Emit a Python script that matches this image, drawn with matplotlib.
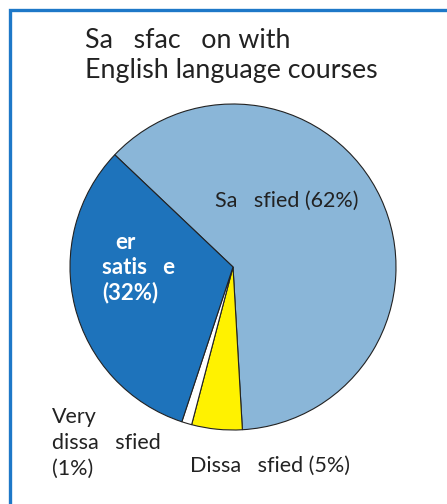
import matplotlib
matplotlib.use("Agg")
import matplotlib.pyplot as plt
from matplotlib.patches import Rectangle

# slice data, clockwise from the upper-left edge
labels = ["Satisfied", "Dissatisfied", "Very dissatisfied", "Rather satisfied"]
shares = [62, 5, 1, 32]
colors = ["#8ab6d8", "#fff200", "#ffffff", "#1e73bb"]

title_lines = ["Sa   sfac   on with", "English language courses"]
label_sat = "Sa   sfied (62%)"
label_dis = "Dissa   sfied (5%)"
label_very = ["Very", "dissa   sfied", "(1%)"]
label_rather = ["er", "satis   e", "(32%)"]

W, H = 447, 504
fig = plt.figure(figsize=(W / 100, H / 100), dpi=100)
ax = fig.add_axes([0, 0, 1, 1])

font = "Lato"
ink = "#222222"

cx, cy, r = 233, H - 267, 163
ax.pie(shares, colors=colors, startangle=136.5, counterclock=False,
       center=(cx, cy), radius=r, frame=True,
       wedgeprops=dict(edgecolor=ink, linewidth=0.8))
ax.set_xlim(0, W)
ax.set_ylim(0, H)
ax.set_aspect("equal")
ax.axis("off")

# blue frame, runs off the right and bottom edges
ax.add_patch(Rectangle((10, -20), W + 20, H - 10 + 20, fill=False,
                       edgecolor="#1e78c8", linewidth=2.4, clip_on=False))

ax.text(85, H - 48, title_lines[0], fontsize=19.3, family=font, color=ink)
ax.text(85, H - 78, title_lines[1], fontsize=19.3, family=font, color=ink)

ax.text(215, H - 207, label_sat, fontsize=15.5, family=font, color=ink)
ax.text(190, H - 472, label_dis, fontsize=15.5, family=font, color=ink)
for line, y in zip(label_very, [423, 449, 475]):
    ax.text(52, H - y, line, fontsize=15.5, family=font, color=ink)
for line, x, y in zip(label_rather, [115, 102, 102], [249, 274, 299]):
    ax.text(x, H - y, line, fontsize=16, family=font, color="white",
            weight="bold")

fig.savefig("out.png", dpi=100)
